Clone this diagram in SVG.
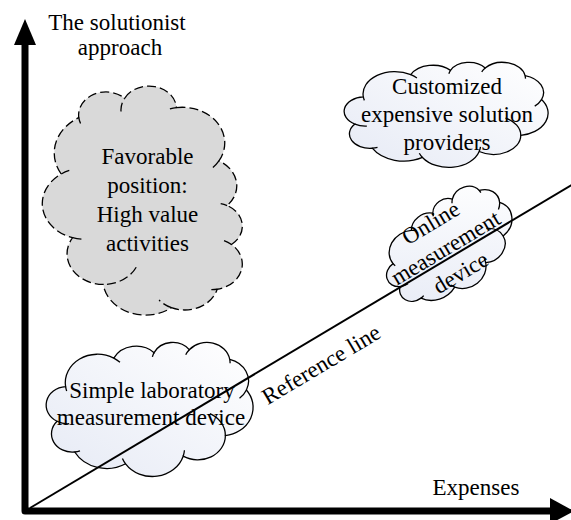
<svg xmlns="http://www.w3.org/2000/svg" width="571" height="520" viewBox="0 0 571 520">
<style>
.t{font-family:"Liberation Serif","Times New Roman",serif;font-size:23px;fill:#000;text-anchor:middle}
.cl{fill:url(#cg);stroke:#000;stroke-width:1.3}
.gr{fill:#d9d9d9;stroke:#000;stroke-width:1.3;stroke-dasharray:9 4}
.hk{fill:none;stroke:#000;stroke-width:1.3}
.hkd{fill:none;stroke:#000;stroke-width:1.3;stroke-dasharray:9 4}
.ax{fill:none;stroke:#000;stroke-width:7;stroke-linejoin:round}
.ref{stroke:#000;stroke-width:2}
</style>
<defs>
<linearGradient id="cg" x1="1" y1="0" x2="0" y2="1">
<stop offset="0" stop-color="#ffffff"/>
<stop offset="1" stop-color="#e6eaf5"/>
</linearGradient>
<path id="cloud" vector-effect="non-scaling-stroke" d="M3900,14370 A6753,9190 0 0 1 14005,5202 A5333,7267 0 0 1 22459,3432 A4365,5945 0 0 1 29836,2481 A4857,6595 0 0 1 38322,5577 A5333,7273 0 0 1 41822,15460 A6775,9220 0 0 1 37407,30202 A5785,7867 0 0 1 28558,36812 A6752,9215 0 0 1 16483,39264 A7720,10543 0 0 1 5807,35469 A4360,5918 0 0 1 2116,25547 A4345,5945 0 0 1 3900,14370 Z"/>
<path id="hooks" vector-effect="non-scaling-stroke" d="M4649,26344 A4345,5945 0 0 1 2116,25547 M6916,35088 A4360,5918 0 0 1 5807,35469 M16483,39264 A6752,9215 0 0 1 15815,37523 M28825,34903 A6752,9215 0 0 1 28558,36812 M34156,23066 A5785,7867 0 0 1 37407,30202 M41822,15460 A5333,7273 0 0 1 40374,18137 M38322,5577 A4857,6595 0 0 1 38398,6840 M29094,4095 A4857,6595 0 0 1 29836,2481 M22100,4821 A4365,5945 0 0 1 22459,3432 M14005,5202 A6753,9190 0 0 1 15305,6551 M4127,15789 A6753,9190 0 0 1 3900,14370"/>
</defs>

<g id="favorable-position">
<g transform="translate(243,87) rotate(90) scale(0.0052778,0.0046296)">
<use href="#cloud" class="gr"/>
<use href="#hooks" class="hkd"/>
</g>
<text class="t" x="147.5" y="164">Favorable</text>
<text class="t" x="147.5" y="193">position:</text>
<text class="t" x="147.5" y="222">High value</text>
<text class="t" x="147.5" y="251">activities</text>
</g>

<g id="customized-providers">
<g transform="translate(345,62) scale(0.0046991,0.0024306)">
<use href="#cloud" class="cl"/>
<use href="#hooks" class="hk"/>
</g>
<text class="t" x="447" y="94">Customized</text>
<text class="t" x="447" y="122">expensive solution</text>
<text class="t" x="447" y="150">providers</text>
</g>

<g id="online-device">
<g transform="translate(450,247) rotate(-31) translate(-70,-45) scale(0.0032407,0.0020833)">
<use href="#cloud" class="cl"/>
<use href="#hooks" class="hk"/>
</g>
<g transform="translate(447,250) rotate(-31)">
<text class="t" x="0" y="-24">Online</text>
<text class="t" x="0" y="5">measurement</text>
<text class="t" x="0" y="34">device</text>
</g>
</g>

<g id="simple-lab-device">
<g transform="translate(47,342) scale(0.0047685,0.0031019)">
<use href="#cloud" class="cl"/>
<use href="#hooks" class="hk"/>
</g>
<text class="t" x="152" y="398">Simple laboratory</text>
<text class="t" x="151" y="425">measurement device</text>
</g>

<g id="connectors">
<line class="ref" x1="30" y1="508" x2="575" y2="183"/>
<polyline class="ax" points="25,44 25,511 551,511"/>
<polygon points="25,19 14,45 36,45" fill="#000"/>
<polygon points="574,511 550,498 550,524" fill="#000"/>
</g>

<g id="y-axis-label">
<text class="t" x="117" y="30">The solutionist</text>
<text class="t" x="120" y="55">approach</text>
</g>
<g id="x-axis-label">
<text class="t" x="476" y="495">Expenses</text>
</g>
<g id="reference-line-label">
<text class="t" transform="translate(325,371) rotate(-30.8)">Reference line</text>
</g>
</svg>
